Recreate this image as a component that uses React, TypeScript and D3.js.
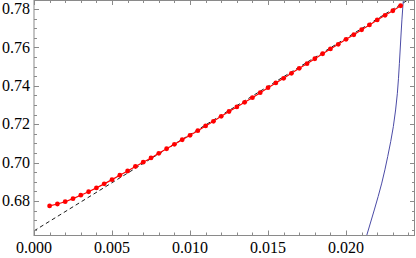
import { useEffect, useRef } from "react"
import * as d3 from "d3"

// red sample points
const xs = [
  0.001, 0.0015, 0.002, 0.0025, 0.003, 0.0035, 0.004, 0.0045, 0.005, 0.0055, 0.006, 0.0065,
  0.007, 0.0075, 0.008, 0.0085, 0.009, 0.0095, 0.01, 0.0105, 0.011, 0.0115, 0.012, 0.0125,
  0.013, 0.0135, 0.014, 0.0145, 0.015, 0.0155, 0.016, 0.0165, 0.017, 0.0175, 0.018, 0.0185,
  0.019, 0.0195, 0.02, 0.0205, 0.021, 0.0215, 0.022, 0.0225, 0.023, 0.0235,
]
const ys = [
  0.6774, 0.6784, 0.6796, 0.6812, 0.683, 0.6848, 0.6868, 0.6889, 0.6911, 0.6934, 0.6956, 0.698,
  0.7002, 0.7024, 0.7048, 0.7072, 0.7095, 0.7119, 0.7142, 0.7166, 0.7191, 0.7215, 0.7241, 0.7266,
  0.729, 0.7314, 0.7338, 0.7364, 0.739, 0.7415, 0.7439, 0.7465, 0.7491, 0.7515, 0.7541, 0.7567,
  0.7592, 0.7616, 0.7642, 0.7666, 0.7692, 0.7717, 0.7743, 0.7767, 0.7791, 0.7817,
]

// dashed asymptote
const dashX = [0, 0.0245]
const dashY = [0.6644, 0.7874]

// blue curve
const blueX = [0.02132, 0.02181, 0.02229, 0.02267, 0.02303, 0.02329, 0.02342, 0.02353, 0.02364, 0.02369]
const blueY = [0.6619, 0.6753, 0.6893, 0.7031, 0.7187, 0.7361, 0.7517, 0.7675, 0.7812, 0.786]

// ticks
const xMajor = [0, 0.005, 0.01, 0.015, 0.02]
const xLabels = ["0.000", "0.005", "0.010", "0.015", "0.020"]
const xMinor = [
  0.001, 0.002, 0.003, 0.004, 0.006, 0.007, 0.008, 0.009, 0.011, 0.012, 0.013, 0.014, 0.016, 0.017,
  0.018, 0.019, 0.021, 0.022, 0.023, 0.024,
]
const yMajor = [0.68, 0.7, 0.72, 0.74, 0.76, 0.78]
const yLabels = ["0.68", "0.70", "0.72", "0.74", "0.76", "0.78"]
const yMinor = [
  0.665, 0.67, 0.675, 0.685, 0.69, 0.695, 0.705, 0.71, 0.715, 0.725, 0.73, 0.735, 0.745, 0.75,
  0.755, 0.765, 0.77, 0.775,
]

export default function App() {
  const svgRef = useRef<SVGSVGElement>(null)

  useEffect(() => {
    if (!svgRef.current) return
    const svg = d3.select(svgRef.current)
    svg.selectAll("*").remove()

    const left = 34
    const right = 415
    const top = 0
    const bottom = 235.5

    const x = d3.scaleLinear().domain([0, 0.02442]).range([left, right])
    const y = d3.scaleLinear().domain([0.662, 0.7847]).range([bottom, top])

    svg
      .append("clipPath")
      .attr("id", "plotclip")
      .append("rect")
      .attr("x", left)
      .attr("y", top)
      .attr("width", right - left)
      .attr("height", bottom - top)

    const plot = svg.append("g").attr("clip-path", "url(#plotclip)")

    // dashed line
    const dash = dashX.map((d, i) => [d, dashY[i]] as [number, number])
    plot
      .append("path")
      .datum(dash)
      .attr("fill", "none")
      .attr("stroke", "#000")
      .attr("stroke-width", 0.9)
      .attr("stroke-dasharray", "4,3")
      .attr("d", d3.line().x((d) => x(d[0])).y((d) => y(d[1])))

    // blue curve
    const blue = blueX.map((d, i) => [d, blueY[i]] as [number, number])
    plot
      .append("path")
      .datum(blue)
      .attr("fill", "none")
      .attr("stroke", "#4b4ba6")
      .attr("stroke-width", 1)
      .attr("d", d3.line().x((d) => x(d[0])).y((d) => y(d[1])).curve(d3.curveMonotoneY))

    // red line and dots
    const red = xs.map((d, i) => [d, ys[i]] as [number, number])
    plot
      .append("path")
      .datum(red)
      .attr("fill", "none")
      .attr("stroke", "#ff0000")
      .attr("stroke-width", 1.2)
      .attr("d", d3.line().x((d) => x(d[0])).y((d) => y(d[1])))

    plot
      .selectAll(".dot")
      .data(red)
      .enter()
      .append("circle")
      .attr("cx", (d) => x(d[0]))
      .attr("cy", (d) => y(d[1]))
      .attr("r", 2.4)
      .attr("fill", "#ff0000")

    // frame
    const frameColor = "#8a8a8a"
    svg
      .append("rect")
      .attr("x", left)
      .attr("y", top + 0.5)
      .attr("width", right - left - 0.5)
      .attr("height", bottom - top - 0.5)
      .attr("fill", "none")
      .attr("stroke", frameColor)
      .attr("stroke-width", 1)

    const ticks = svg.append("g").attr("stroke", frameColor).attr("stroke-width", 1)
    const xTick = (v: number, len: number) => {
      const px = Math.round(x(v)) + 0.5
      ticks.append("line").attr("x1", px).attr("x2", px).attr("y1", bottom).attr("y2", bottom - len)
      ticks.append("line").attr("x1", px).attr("x2", px).attr("y1", top).attr("y2", top + len)
    }
    const yTick = (v: number, len: number) => {
      const py = Math.round(y(v)) + 0.5
      ticks.append("line").attr("x1", left).attr("x2", left + len).attr("y1", py).attr("y2", py)
      ticks.append("line").attr("x1", right).attr("x2", right - len).attr("y1", py).attr("y2", py)
    }
    xMajor.forEach((v) => xTick(v, 5))
    xMinor.forEach((v) => xTick(v, 3))
    yMajor.forEach((v) => yTick(v, 5))
    yMinor.forEach((v) => yTick(v, 3))

    const font = "'Liberation Serif', 'DejaVu Serif', serif"
    svg
      .selectAll(".xlab")
      .data(xMajor)
      .enter()
      .append("text")
      .attr("x", (d) => x(d))
      .attr("y", 253)
      .attr("text-anchor", "middle")
      .attr("font-family", font)
      .attr("font-size", "16px")
      .attr("fill", "#000")
      .text((_, i) => xLabels[i])

    svg
      .selectAll(".ylab")
      .data(yMajor)
      .enter()
      .append("text")
      .attr("x", 30)
      .attr("y", (d) => y(d))
      .attr("dy", "0.33em")
      .attr("text-anchor", "end")
      .attr("font-family", font)
      .attr("font-size", "16px")
      .attr("fill", "#000")
      .text((_, i) => yLabels[i])
  }, [])

  return (
    <svg
      ref={svgRef}
      width={416}
      height={258}
      style={{ position: "absolute", left: 0, top: 0, background: "#fff" }}
    />
  )
}
